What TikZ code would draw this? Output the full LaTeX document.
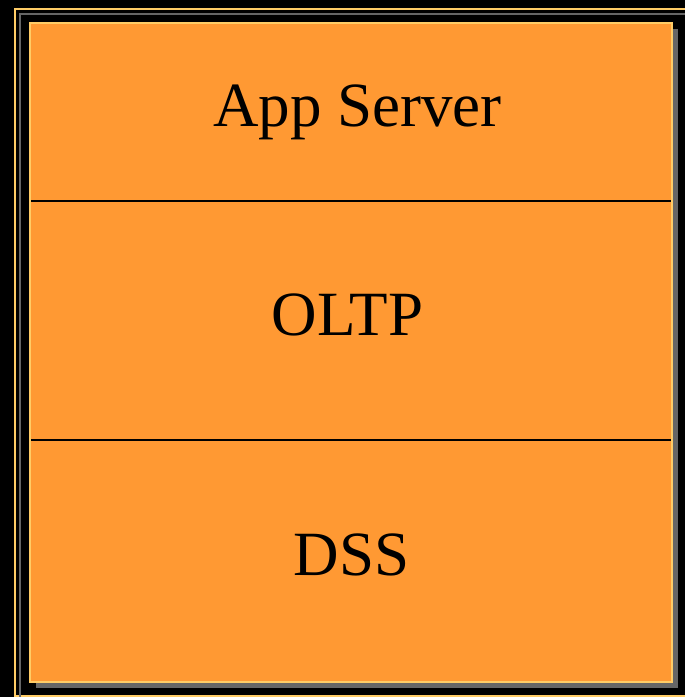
\documentclass[tikz,border=0pt]{standalone}
\usepackage{fontspec}
\setmainfont{Liberation Serif}
\definecolor{boxfill}{HTML}{FF9933}
\definecolor{boxedge}{HTML}{FFCC66}
\definecolor{shadowgray}{HTML}{666666}
\tikzset{label text/.style={font=\fontsize{63}{70}\selectfont,anchor=base,inner sep=0pt}}
\begin{document}
\begin{tikzpicture}[x=1pt,y=-1pt]
%% background
\fill[black] (0,0) rectangle (685,697);
\useasboundingbox (0,0) rectangle (685,697);
%% frame lines
\draw[boxedge,line width=2pt] (14.5,697) -- (14.5,8.5) -- (685,8.5);
\draw[boxedge,line width=2pt] (14.5,696) -- (685,696);
\draw[shadowgray,line width=2.5pt] (20,697) -- (20,14) -- (685,14);
%% shadow
\fill[shadowgray] (36,29) rectangle (678,688);
%% box
\fill[boxfill] (30,23) rectangle (672,682);
\draw[boxedge,line width=2pt] (30,23) rectangle (672,682);
%% dividers
\draw[black,line width=2pt] (31,201) -- (671,201);
\draw[black,line width=2pt] (31,440) -- (671,440);
%% labels
\node[label text] (app) at (357.5,126) {App Server};
\node[label text] (oltp) at (347.5,335) {OLTP};
\node[label text] (dss) at (351.5,575) {DSS};
\end{tikzpicture}
\end{document}
